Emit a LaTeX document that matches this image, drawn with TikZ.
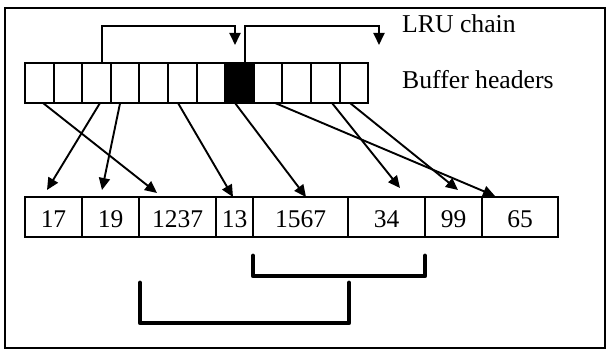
\documentclass[tikz,border=0pt]{standalone}
\usepackage{fontspec}
\setmainfont{Liberation Serif}
\usetikzlibrary{arrows.meta,calc}
\begin{document}
\begin{tikzpicture}[x=1pt,y=-1pt,
  cell/.style={draw,line width=1.9pt,minimum height=40pt,inner sep=0pt,outer sep=0pt},
  hcell/.style={cell,minimum width=28.6pt},
  num/.style={cell,font=\fontsize{25.5}{30}\selectfont,text height=21pt,text depth=0pt},
  ptr/.style={line width=1.9pt,-{Triangle[length=12pt,width=11pt]}},
  brk/.style={line width=4.8pt,line cap=round,line join=round},
  lbl/.style={font=\fontsize{25.7}{30}\selectfont,anchor=base west,inner sep=0pt}]
\useasboundingbox (0,0) rectangle (611,352);
\draw[line width=1.9pt] (5,8) rectangle (605,348);
% buffer headers
\foreach \i in {1,...,12}
  \node[hcell] (h\i) at ({39.3+28.6*(\i-1)},83) {};
\fill (h8.north west) rectangle (h8.south east);
% buffer pool
\node[num,minimum width=57pt] (c17) at (53.5,217) {17};
\node[num,minimum width=57pt] (c19) at (110.5,217) {19};
\node[num,minimum width=77pt] (c1237) at (177.5,217) {1237};
\node[num,minimum width=37pt] (c13) at (234.5,217) {13};
\node[num,minimum width=95pt] (c1567) at (300.5,217) {1567};
\node[num,minimum width=77pt] (c34) at (386.5,217) {34};
\node[num,minimum width=57pt] (c99) at (453.5,217) {99};
\node[num,minimum width=76pt] (c65) at (520,217) {65};
% pointers
\draw[ptr] ([xshift=3.5pt]h3.south) -- ($(c17.north)+(-6.5,-7)$);
\draw[ptr] ([xshift=-5pt]h4.south) -- ($(c19.north)+(-8.5,-7)$);
\draw[ptr] ([xshift=3.7pt]h1.south) -- ($(c1237.north)+(-20.5,-4)$);
\draw[ptr] ([xshift=-4.3pt]h6.south) -- ($(c13.north)+(-1.5,0)$);
\draw[ptr] ([xshift=-4.5pt]h8.south) -- ($(c1567.north)+(5.5,0)$);
\draw[ptr] ([xshift=7pt]h9.south) -- ($(c65.north)+(-25,-1)$);
\draw[ptr] ([xshift=6.7pt]h11.south) -- ($(c34.north)+(13.5,-9)$);
\draw[ptr] ([xshift=-3.9pt]h12.south) -- ($(c99.north)+(4.5,-7)$);
% LRU chain
\coordinate (e1) at (235,45);
\coordinate (e2) at (379,45);
\draw[ptr] ([xshift=5.5pt]h3.north) -- ++(0,-37) -| (e1);
\draw[ptr] ([xshift=5.5pt]h8.north) -- ++(0,-37) -| (e2);
% labels
\node[lbl] (lru) at (402,33) {LRU chain};
\node[lbl] (bh) at (402,89) {Buffer headers};
% brackets
\draw[brk] (253,256) |- (425,276) -- (425,256);
\draw[brk] (140,283) |- (349,323) -- (349,283);
\end{tikzpicture}
\end{document}
